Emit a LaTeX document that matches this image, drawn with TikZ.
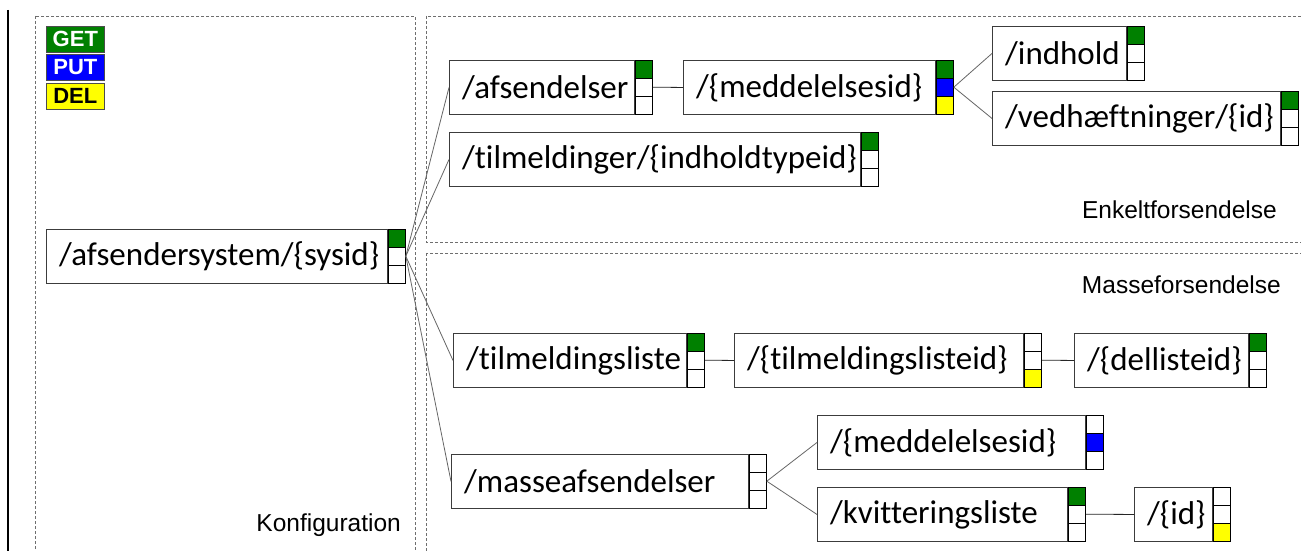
\documentclass[tikz,border=0pt]{standalone}
\usepackage{fontspec}
\setmainfont[Ligatures={NoCommon}]{Carlito}
\newfontfamily\arialf{Liberation Sans}
\usetikzlibrary{calc}
\definecolor{getc}{RGB}{0,128,0}
\definecolor{putc}{RGB}{0,0,255}
\definecolor{delc}{RGB}{255,255,0}
\definecolor{framec}{RGB}{110,110,110}
\definecolor{boxc}{RGB}{60,60,60}
\tikzset{
  resbox/.style={draw=boxc, line width=0.9pt, minimum height=54pt, inner sep=0pt, fill=white},
  restext/.style={inner sep=0pt, font=\fontsize{33}{38}\selectfont},
  sqcol/.style={minimum width=17.5pt, minimum height=54pt, inner sep=0pt},
  sqline/.style={draw=black, line width=0.8pt},
  conn/.style={draw=gray!80!black, line width=0.8pt},
  hconn/.style={draw=black!85, line width=0.8pt},
  frame/.style={draw=framec, line width=0.8pt, dash pattern=on 3pt off 2pt},
  seclabel/.style={inner sep=0pt, font=\arialf\fontsize{24.5}{28}\selectfont},
  legend/.style={draw=black!70, line width=0.7pt, minimum width=58pt, minimum height=26pt, inner sep=0pt, font=\arialf\bfseries\fontsize{22}{24}\selectfont}
}
\newcommand\resnode[8]{%
  \node[resbox, minimum width=#4pt, anchor=north west] (#1) at (#2,#3) {};
  \node[restext, anchor=west] (#1t) at ([xshift=13pt]#1.west) {#5};
  \node[sqcol, anchor=north west] (#1s) at (#1.north east) {};
  \fill[#6] (#1s.north west) rectangle ([yshift=-18pt]#1s.north east);
  \fill[#7] ([yshift=-18pt]#1s.north west) rectangle ([yshift=18pt]#1s.south east);
  \fill[#8] ([yshift=18pt]#1s.south west) rectangle (#1s.south east);
  \draw[sqline] ([yshift=-18pt]#1s.north west) -- ([yshift=-18pt]#1s.north east);
  \draw[sqline] ([yshift=18pt]#1s.south west) -- ([yshift=18pt]#1s.south east);
  \draw[sqline] (#1s.north west) rectangle (#1s.south east);
}
\begin{document}
\begin{tikzpicture}[x=1pt, y=-1pt]
\useasboundingbox (0,0) rectangle (1301,551);
\clip (0,0) rectangle (1301,551);
\fill[white] (0,0) rectangle (1301,551);

% left black bar
\draw[black, line width=2pt] (8,10) -- (8,560);

% frames
\draw[frame] (35,16) rectangle (415.5,570);
\draw[frame] (426,16) rectangle (1320,242);
\draw[frame] (426,253) rectangle (1320,570);

% section labels
\node[seclabel, anchor=base east] (lkonf) at (401,531) {Konfiguration};
\node[seclabel, anchor=base east] (lenk) at (1277,218) {Enkeltforsendelse};
\node[seclabel, anchor=base east] (lmas) at (1281,293) {Masseforsendelse};

% legend
\node[legend, fill=getc, text=white, anchor=north west] (lget) at (46,26) {GET};
\node[legend, fill=putc, text=white, anchor=north west] (lput) at (46,54) {PUT};
\node[legend, fill=delc, text=black, anchor=north west] (ldel) at (46,83) {DEL};

% resources
\resnode{afs}{46}{229}{341}{/afsendersystem/\{sysid\}}{getc}{white}{white}
\resnode{afd}{449}{60}{185}{/afsendelser}{getc}{white}{white}
\resnode{med}{683}{60}{252}{/\{meddelelsesid\}}{getc}{putc}{delc}
\resnode{til}{449}{132}{411}{/tilmeldinger/\{indholdtypeid\}}{getc}{white}{white}
\resnode{ind}{992}{26}{134}{/indhold}{getc}{white}{white}
\resnode{ved}{992}{91}{288}{/vedhæftninger/\{id\}}{getc}{white}{white}
\resnode{tl}{453}{333}{233}{/tilmeldingsliste}{getc}{white}{white}
\resnode{tlid}{734}{333}{289}{/\{tilmeldingslisteid\}}{white}{white}{delc}
\resnode{del}{1074}{333}{174}{/\{dellisteid\}}{getc}{white}{white}
\resnode{mas}{451}{454}{297}{/masseafsendelser}{white}{white}{white}
\resnode{mmed}{817}{415}{268}{/\{meddelelsesid\}}{white}{putc}{white}
\resnode{kv}{817}{487}{250}{/kvitteringsliste}{getc}{white}{white}
\resnode{idn}{1134}{487}{78}{/\{id\}}{white}{white}{delc}

% connectors
\draw[conn] (afss.east) -- (afd.west);
\draw[conn] (afss.east) -- (til.west);
\draw[conn] (afss.east) -- (tl.west);
\draw[conn] (afss.east) -- (mas.west);
\draw[hconn] (afds.east) -- (med.west);
\draw[conn] (meds.east) -- (ind.west);
\draw[conn] (meds.east) -- (ved.west);
\draw[hconn] (tls.east) -- (tlid.west);
\draw[hconn] (tlids.east) -- (del.west);
\draw[conn] (mass.east) -- (mmed.west);
\draw[conn] (mass.east) -- (kv.west);
\draw[hconn] (kvs.east) -- (idn.west);
\end{tikzpicture}
\end{document}
